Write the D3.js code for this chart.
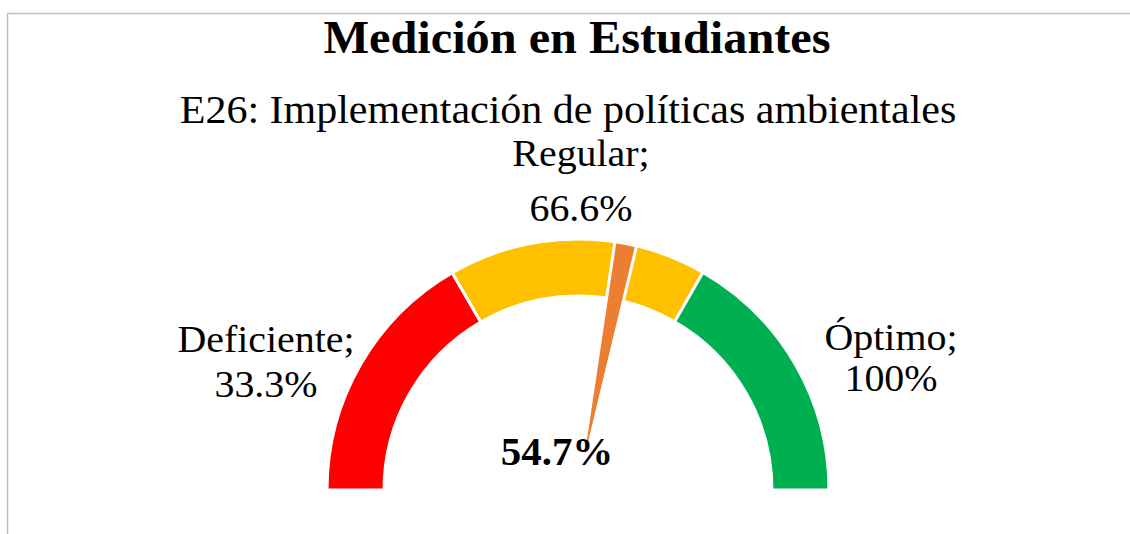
<!DOCTYPE html>
<html>
<head>
<meta charset="utf-8">
<script src="https://cdn.jsdelivr.net/npm/d3@7"></script>
<style>
  body { margin: 0; background: #fff; }
  text { font-family: "Liberation Serif", "Times New Roman", serif; fill: #000; }
</style>
</head>
<body>
<div id="chart"></div>
<script>
// gauge data
var title = "Medición en Estudiantes";
var subtitle = "E26: Implementación de políticas ambientales";
var categories = ["Deficiente", "Regular", "Óptimo"];
var limits = [33.3, 66.6, 100];
var limitLabels = ["33.3%", "66.6%", "100%"];
var colors = ["#FF0000", "#FFC000", "#00B050"];
var value = 54.7;
var needleSize = 2.8;

var width = 1130, height = 534;
var cx = 578, cy = 490, outerR = 251, innerR = 194;
var sx = 1.05; // text looks a bit wide in the reference

var svg = d3.select("#chart")
    .append("svg")
    .attr("width", width)
    .attr("height", height);

// frame
svg.append("rect")
    .attr("x", 7.5)
    .attr("y", 13.5)
    .attr("width", width)
    .attr("height", height)
    .attr("fill", "none")
    .attr("stroke", "#bfbfbf")
    .attr("stroke-width", 1.5);

var angle = d3.scaleLinear()
    .domain([0, 100])
    .range([-Math.PI / 2, Math.PI / 2]);

var g = svg.append("g")
    .attr("transform", "translate(" + cx + "," + cy + ")");

var arc = d3.arc()
    .innerRadius(innerR)
    .outerRadius(outerR);

var bands = limits.map(function(l, i) {
    return { start: i == 0 ? 0 : limits[i - 1], end: l, color: colors[i] };
});

g.selectAll(".band")
    .data(bands)
    .enter()
    .append("path")
    .attr("class", "band")
    .attr("d", function(d) {
        return arc({ startAngle: angle(d.start), endAngle: angle(d.end) });
    })
    .attr("fill", function(d) { return d.color; })
    .attr("stroke", "#fff")
    .attr("stroke-width", 3);

// needle = thin pie slice from the centre
var needleArc = d3.arc()
    .innerRadius(0)
    .outerRadius(outerR);

g.append("path")
    .attr("d", needleArc({ startAngle: angle(value), endAngle: angle(value + needleSize) }))
    .attr("fill", "#ED7D31")
    .attr("stroke", "#fff")
    .attr("stroke-width", 3)
    .attr("stroke-linejoin", "bevel");

function addText(x, y, str, size, weight) {
    svg.append("text")
        .attr("transform", "translate(" + x + "," + y + ") scale(" + sx + ",1)")
        .attr("text-anchor", "middle")
        .style("font-size", size + "px")
        .style("font-weight", weight || "normal")
        .text(str);
}

addText(577, 53, title, 46, "bold");
addText(568, 123, subtitle, 40);

// category labels
var labelPos = [[266, 352, 397], [581, 166, 221], [891, 350, 391]];
categories.forEach(function(c, i) {
    var p = labelPos[i];
    addText(p[0], p[1], c + ";", 38);
    addText(p[0], p[2], limitLabels[i], 38);
});

addText(557, 465, d3.format(".1f")(value) + "%", 39, "bold");
</script>
</body>
</html>
